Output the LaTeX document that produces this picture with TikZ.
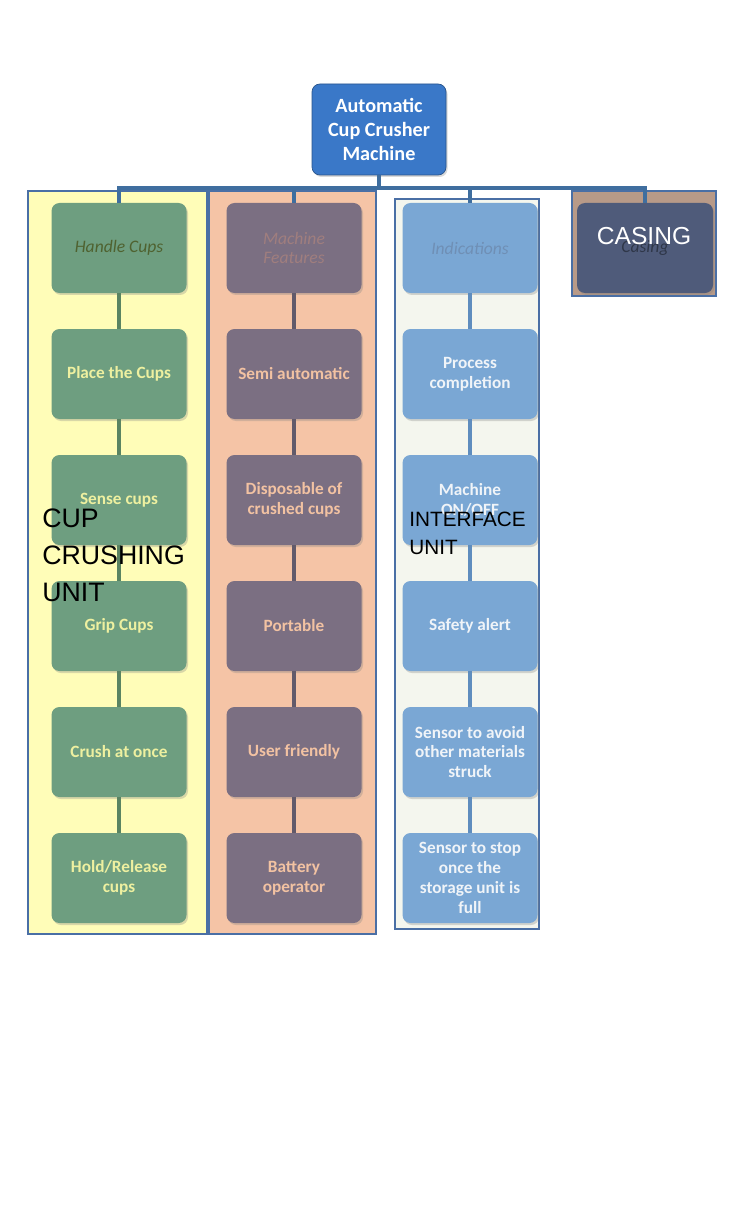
\documentclass[tikz,border=0pt]{standalone}
\usepackage{fontspec}
\usetikzlibrary{shadows}
\newfontfamily\boxfont{Carlito}
\newfontfamily\labelfont{Liberation Sans}
\definecolor{tblau}{HTML}{3A78C8}
\definecolor{rahmen}{HTML}{4A6FA5}
\definecolor{bus}{HTML}{3F6E9F}
\definecolor{sgelb}{HTML}{FFFDB8}
\definecolor{slachs}{HTML}{F5C4A6}
\definecolor{shell}{HTML}{F4F6EE}
\definecolor{sbraun}{HTML}{B89A88}
\definecolor{gruen}{HTML}{6E9E80}
\definecolor{gtext}{HTML}{EEF0A0}
\definecolor{gkopf}{HTML}{4F6230}
\definecolor{glinie}{HTML}{5A8462}
\definecolor{lila}{HTML}{7B6F82}
\definecolor{ltext}{HTML}{F2C2A2}
\definecolor{lkopf}{HTML}{A07E7E}
\definecolor{llinie}{HTML}{625A6A}
\definecolor{hblau}{HTML}{7AA7D4}
\definecolor{btext}{HTML}{F0F4F8}
\definecolor{bkopf}{HTML}{6F8FB5}
\definecolor{blinie}{HTML}{5F8DBE}
\definecolor{schiefer}{HTML}{4F5B7A}

\begin{document}
\begin{tikzpicture}[every edge/.style={draw=bus, line width=2.2pt},
    cell/.style={rectangle, rounded corners=0.16cm, minimum width=2.7cm, minimum height=1.8cm, align=center,
        font=\boxfont\bfseries\fontsize{9.8}{11.3}\selectfont,
        drop shadow={opacity=0.3, shadow xshift=0.03cm, shadow yshift=-0.04cm}},
    headcell/.style={cell, font=\boxfont\itshape\fontsize{10}{11.3}\selectfont},
    frame/.style={draw=rahmen, line width=0.8pt},
    glink/.style={draw=glinie}, llink/.style={draw=llinie}, blink/.style={draw=blinie}]
        \useasboundingbox (0, 0) rectangle (14.68, -24.14);

        % background frames
        \draw[frame, fill=sgelb] (0.56, -3.82) rectangle (4.14, -18.68);
        \draw[frame, fill=slachs] (4.18, -3.82) rectangle (7.52, -18.68);
        \draw[frame, fill=shell] (7.90, -3.98) rectangle (10.78, -18.58);
        \draw[frame, fill=sbraun] (11.44, -3.82) rectangle (14.32, -5.92);

        \node[cell, fill=tblau, draw=tblau!70!black, text=white, minimum width=2.68cm, minimum height=1.82cm,
            font=\boxfont\bfseries\fontsize{11.5}{13.6}\selectfont] (T) at (7.58, -2.59) {Automatic\\Cup Crusher\\Machine};

        \coordinate (bus) at (7.58, -3.76);

        % column 1
        \node[headcell, fill=gruen, text=gkopf] (H) at (2.38, -4.96) {Handle Cups};

        \node[cell, fill=gruen, text=gtext] (PC) at (2.38, -7.48) {Place the Cups};

        \node[cell, fill=gruen, text=gtext] (SC) at (2.38, -10.00) {Sense cups};

        \node[cell, fill=gruen, text=gtext] (GC) at (2.38, -12.52) {Grip Cups};

        \node[cell, fill=gruen, text=gtext] (CO) at (2.38, -15.04) {Crush at once};

        \node[cell, fill=gruen, text=gtext] (HR) at (2.38, -17.56) {Hold/Release\\cups};

        % column 2
        \node[headcell, fill=lila, text=lkopf] (MF) at (5.88, -4.96) {Machine\\Features};

        \node[cell, fill=lila, text=ltext] (SA) at (5.88, -7.48) {Semi automatic};

        \node[cell, fill=lila, text=ltext] (DC) at (5.88, -10.00) {Disposable of\\crushed cups};

        \node[cell, fill=lila, text=ltext] (PO) at (5.88, -12.52) {Portable};

        \node[cell, fill=lila, text=ltext] (UF) at (5.88, -15.04) {User friendly};

        \node[cell, fill=lila, text=ltext] (BO) at (5.88, -17.56) {Battery\\operator};

        % column 3
        \node[headcell, fill=hblau, text=bkopf] (IN) at (9.40, -4.96) {Indications};

        \node[cell, fill=hblau, text=btext] (PR) at (9.40, -7.48) {Process\\completion};

        \node[cell, fill=hblau, text=btext] (MO) at (9.40, -10.00) {Machine\\ON/OFF};

        \node[cell, fill=hblau, text=btext] (SF) at (9.40, -12.52) {Safety alert};

        \node[cell, fill=hblau, text=btext] (SO) at (9.40, -15.04) {Sensor to avoid\\other materials\\struck};

        \node[cell, fill=hblau, text=btext] (SS) at (9.40, -17.56) {Sensor to stop\\once the\\storage unit is\\full};

        % column 4
        \node[headcell, fill=schiefer, text=schiefer!60!black, minimum width=2.72cm] (CA) at (12.90, -4.96) {Casing};


        \path (T) edge (bus);
        \path (bus) edge[to path={-| (\tikztotarget)}] (H);
        \path (bus) edge[to path={-| (\tikztotarget)}] (MF);
        \path (bus) edge[to path={-| (\tikztotarget)}] (IN);
        \path (bus) edge[to path={-| (\tikztotarget)}] (CA);

        \path (H) edge[glink] (PC);
        \path (PC) edge[glink] (SC);
        \path (SC) edge[glink] (GC);
        \path (GC) edge[glink] (CO);
        \path (CO) edge[glink] (HR);

        \path (MF) edge[llink] (SA);
        \path (SA) edge[llink] (DC);
        \path (DC) edge[llink] (PO);
        \path (PO) edge[llink] (UF);
        \path (UF) edge[llink] (BO);

        \path (IN) edge[blink] (PR);
        \path (PR) edge[blink] (MO);
        \path (MO) edge[blink] (SF);
        \path (SF) edge[blink] (SO);
        \path (SO) edge[blink] (SS);

        % unit labels
        \node[anchor=west, align=left, inner sep=0pt, font=\labelfont\fontsize{15.2}{21}\selectfont] (LCU) at (0.84, -11.10) {CUP\\CRUSHING\\UNIT};

        \node[anchor=west, align=left, inner sep=0pt, font=\labelfont\fontsize{11.8}{16}\selectfont] (LIU) at (8.18, -10.66) {INTERFACE\\UNIT};

        \node[inner sep=0pt, white, font=\labelfont\fontsize{14}{16}\selectfont] (LCA) at (12.88, -4.72) {CASING};

    \end{tikzpicture}
\end{document}
